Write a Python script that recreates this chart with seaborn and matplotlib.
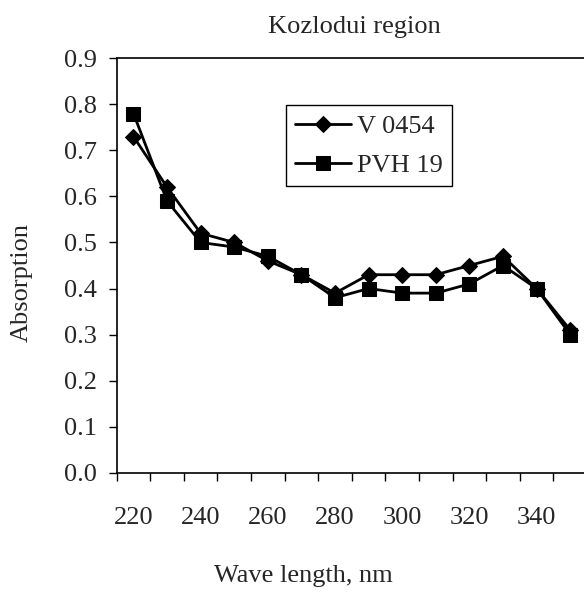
import numpy as np
import pandas as pd
import matplotlib
matplotlib.use("Agg")
import matplotlib.pyplot as plt
import seaborn as sns

# wave lengths (nm) and absorption of the two samples
wave = [220, 230, 240, 250, 260, 270, 280, 290, 300, 310, 320, 330, 340, 350]
v0454 = [0.73, 0.62, 0.52, 0.50, 0.46, 0.43, 0.39, 0.43, 0.43, 0.43, 0.45, 0.47, 0.40, 0.31]
pvh19 = [0.78, 0.59, 0.50, 0.49, 0.47, 0.43, 0.38, 0.40, 0.39, 0.39, 0.41, 0.45, 0.40, 0.30]
xlabels = [220, 240, 260, 280, 300, 320, 340]
yticks = [0.0, 0.1, 0.2, 0.3, 0.4, 0.5, 0.6, 0.7, 0.8, 0.9]

df = pd.DataFrame({"wave": wave, "V 0454": v0454, "PVH 19": pvh19})

sns.set_style("ticks")
plt.rcParams["font.family"] = ["Liberation Serif", "DejaVu Serif"]
plt.rcParams["font.size"] = 19

fig = plt.figure(figsize=(5.84, 5.94), dpi=100)
W, H = 584, 594
# axes box in pixels: left 116.7, right 587, top 58.3, bottom 472.7
ax = fig.add_axes([116.7 / W, 1 - 472.7 / H, (587 - 116.7) / W, (472.7 - 58.3) / H])

sns.lineplot(data=df, x="wave", y="V 0454", ax=ax, color="black", lw=2,
             marker="D", markersize=8.5, markeredgecolor="black", label="V 0454")
sns.lineplot(data=df, x="wave", y="PVH 19", ax=ax, color="black", lw=2,
             marker="s", markersize=9.5, markeredgecolor="black", label="PVH 19")

ax.set_xlim(215, 355)
ax.set_ylim(0, 0.9)
ax.set_xticks(np.arange(215, 355, 10))
ax.set_xticklabels([])
ax.set_xticks(xlabels, minor=True)
ax.set_xticklabels([str(v) for v in xlabels], minor=True)
ax.tick_params(axis="x", which="major", length=6, width=1, direction="out", color="black")
ax.tick_params(axis="x", which="minor", length=0, pad=25, labelsize=19)
ax.set_yticks(yticks)
ax.set_yticklabels([f"{v:.1f}" for v in yticks])
ax.tick_params(axis="y", length=6, width=1, direction="out", pad=8.5, labelsize=19, color="black")

ax.spines["right"].set_visible(False)
for s in ["left", "bottom", "top"]:
    ax.spines[s].set_color("black")
    ax.spines[s].set_linewidth(1.2)

ax.set_xlabel("")
ax.set_ylabel("")

leg = ax.legend(loc="upper left", bbox_to_anchor=(0.36, 0.887), fontsize=19,
                frameon=True, fancybox=False, framealpha=1, edgecolor="black",
                handlelength=2.1, handletextpad=0.25, borderpad=0.35,
                labelspacing=0.6, borderaxespad=0)
leg.get_frame().set_linewidth(1)

fig.text(354 / W, 1 - 27 / H, "Kozlodui region", ha="center", va="center", fontsize=19)
fig.text(303 / W, 1 - 576 / H, "Wave length, nm", ha="center", va="center", fontsize=19)
fig.text(21.7 / W, 1 - 282.5 / H, "Absorption", ha="center", va="center",
         rotation=90, fontsize=19)

fig.savefig("out.png", dpi=100, facecolor="white")
